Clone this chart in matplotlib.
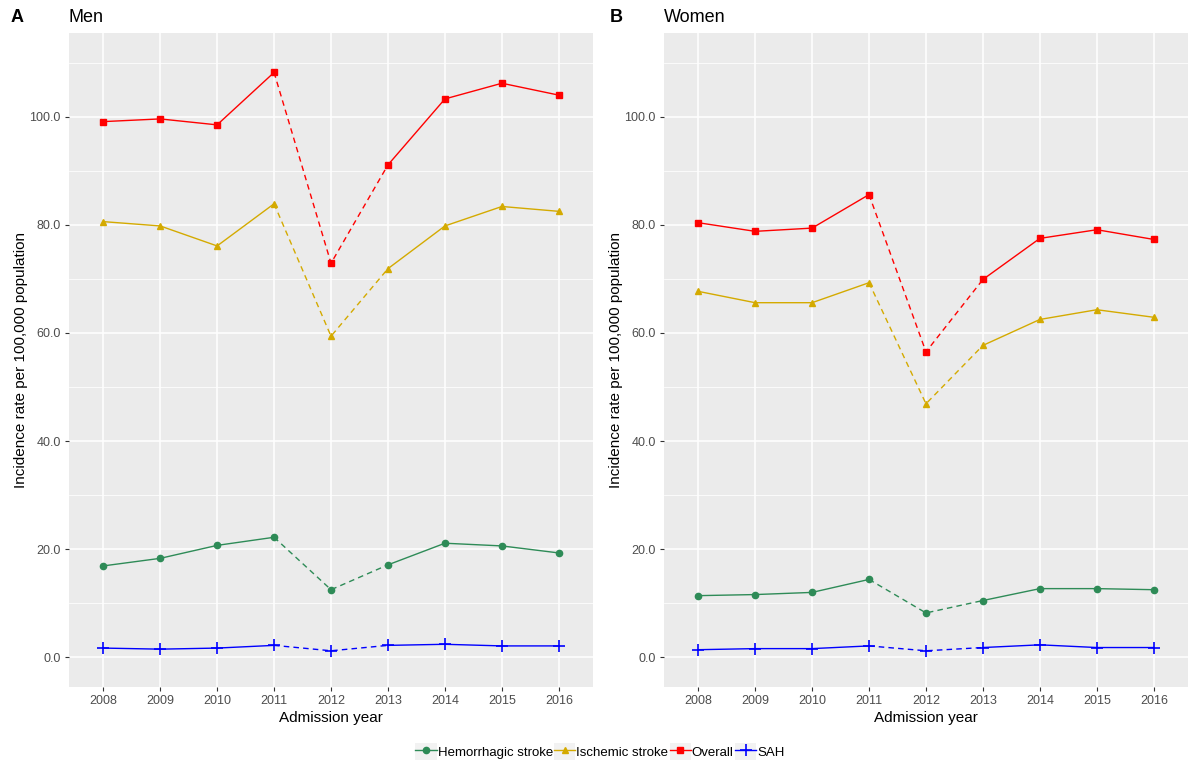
import matplotlib
matplotlib.use("Agg")
import matplotlib.pyplot as plt
from matplotlib.lines import Line2D
from matplotlib.patches import Rectangle
from matplotlib.legend_handler import HandlerLine2D
from matplotlib.ticker import MultipleLocator, FormatStrFormatter
import numpy as np

plt.rcParams['font.family'] = ['Liberation Sans', 'DejaVu Sans']

years = [2008, 2009, 2010, 2011, 2012, 2013, 2014, 2015, 2016]

# Men
men_overall = [99.1, 99.6, 98.5, 108.2, 72.9, 91.1, 103.3, 106.2, 104.0]
men_ischemic = [80.6, 79.8, 76.1, 83.9, 59.4, 71.9, 79.8, 83.4, 82.5]
men_hemorrhagic = [16.9, 18.3, 20.7, 22.2, 12.5, 17.1, 21.1, 20.6, 19.3]
men_sah = [1.7, 1.5, 1.7, 2.2, 1.2, 2.2, 2.4, 2.1, 2.1]

# Women
women_overall = [80.4, 78.8, 79.4, 85.6, 56.5, 69.9, 77.5, 79.1, 77.3]
women_ischemic = [67.7, 65.6, 65.6, 69.3, 46.9, 57.7, 62.5, 64.3, 62.9]
women_hemorrhagic = [11.4, 11.6, 12.0, 14.4, 8.2, 10.5, 12.7, 12.7, 12.5]
women_sah = [1.4, 1.6, 1.6, 2.1, 1.2, 1.8, 2.3, 1.8, 1.8]

series_names = ["Hemorrhagic stroke", "Ischemic stroke", "Overall", "SAH"]
colors = {"Hemorrhagic stroke": "#2E8B57", "Ischemic stroke": "#D4AA00",
          "Overall": "#FF0000", "SAH": "#0000FF"}
markers = {"Hemorrhagic stroke": dict(marker="o", ms=4.5),
           "Ischemic stroke": dict(marker="^", ms=5),
           "Overall": dict(marker="s", ms=5),
           "SAH": dict(marker="+", ms=9, mew=1.2)}

GRAY = "#4D4D4D"


def draw_series(ax, y, name):
    c = colors[name]
    x = np.array(years)
    y = np.array(y)
    # solid before and after the gap year, dashed through 2012
    ax.plot(x[:4], y[:4], color=c, lw=1.0)
    ax.plot(x[3:6], y[3:6], color=c, lw=1.0, ls=(0, (4, 3)))
    ax.plot(x[5:], y[5:], color=c, lw=1.0)
    ax.plot(x, y, ls="none", color=c, **markers[name])


def style_panel(ax, title, letter, lx):
    ax.set_facecolor("#EBEBEB")
    for s in ax.spines.values():
        s.set_visible(False)
    ax.set_xlim(2007.4, 2016.6)
    ax.set_ylim(-5.5, 115.5)
    ax.set_xticks(years)
    ax.set_xticklabels([str(y) for y in years])
    ax.yaxis.set_minor_locator(MultipleLocator(10))
    ax.yaxis.set_major_formatter(FormatStrFormatter("%.1f"))
    ax.set_yticks([0, 20, 40, 60, 80, 100])
    ax.grid(which="major", color="white", lw=1.1)
    ax.grid(which="minor", axis="y", color="white", lw=0.55)
    ax.set_axisbelow(True)
    ax.tick_params(which="major", length=3, width=0.8, color="#333333",
                   labelcolor=GRAY, labelsize=9, pad=3)
    ax.tick_params(which="minor", length=0)
    ax.set_xlabel("Admission year", fontsize=11, color="black", labelpad=3)
    ax.set_ylabel("Incidence rate per 100,000 population", fontsize=11,
                  color="black", labelpad=1)
    ax.set_title(title, loc="left", fontsize=13, pad=8)
    ax.figure.text(lx, 0.977, letter, fontsize=13, fontweight="bold",
                   va="center", ha="left")


fig = plt.figure(figsize=(12, 7.76), dpi=100)
ax1 = fig.add_axes([0.0575, 0.1147, 0.4367, 0.8428])
ax2 = fig.add_axes([0.5533, 0.1147, 0.4367, 0.8428])

for ax, data in [(ax1, [men_hemorrhagic, men_ischemic, men_overall, men_sah]),
                 (ax2, [women_hemorrhagic, women_ischemic, women_overall, women_sah])]:
    for name, y in zip(series_names, data):
        draw_series(ax, y, name)

style_panel(ax1, "Men", "A", 0.009)
style_panel(ax2, "Women", "B", 0.508)


class KeyHandler(HandlerLine2D):
    def create_artists(self, legend, orig_handle, xdescent, ydescent,
                       width, height, fontsize, trans):
        bg = Rectangle((-xdescent, -ydescent), width, height,
                       facecolor="#F2F2F2", edgecolor="none", transform=trans)
        arts = super().create_artists(legend, orig_handle, xdescent, ydescent,
                                      width, height, fontsize, trans)
        return [bg] + list(arts)


handles = []
for name in series_names:
    handles.append(Line2D([], [], color=colors[name], lw=1.0, **markers[name]))

fig.legend(handles, series_names, loc="center", bbox_to_anchor=(0.5, 0.031),
           ncol=4, frameon=False, fontsize=9.5, handlelength=1.6,
           handleheight=1.6, handletextpad=0.08, columnspacing=0.1,
           handler_map={Line2D: KeyHandler(numpoints=1)})

fig.savefig("out.png", dpi=100)
